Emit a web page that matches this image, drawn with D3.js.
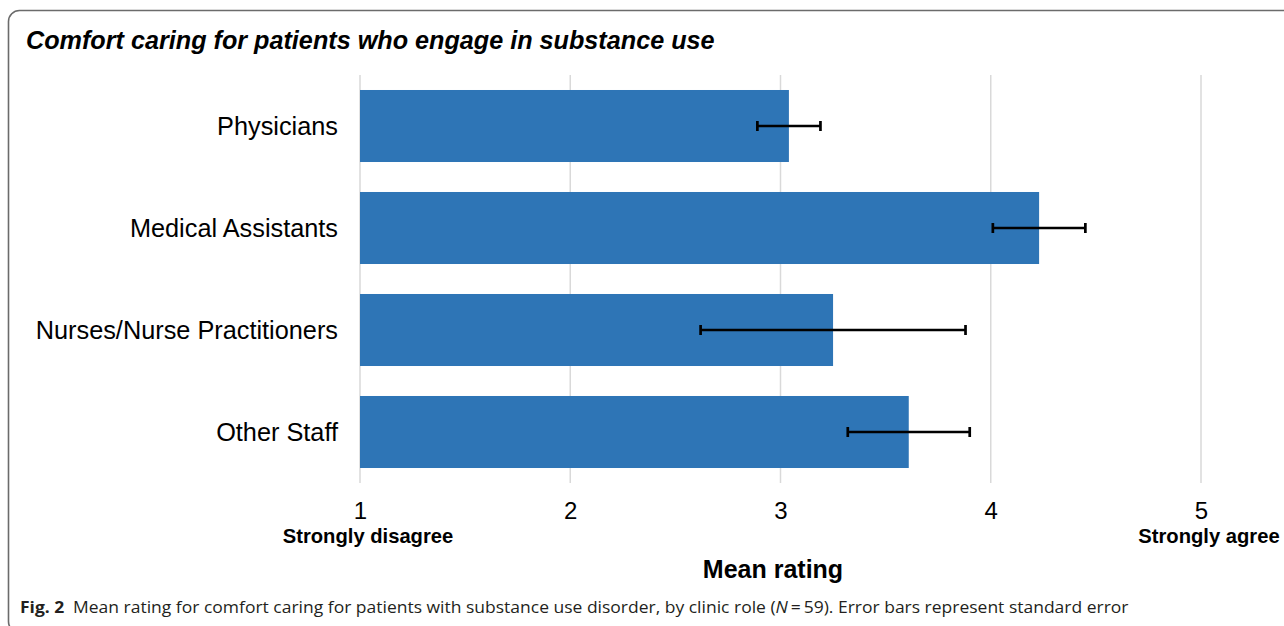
<!DOCTYPE html>
<html lang="en">
<head>
  <meta charset="UTF-8">
  <title>Comfort caring for patients who engage in substance use</title>
  <style>
    body { margin: 0; background: #fff; }
    svg { display: block; font-family: "Liberation Sans", Arial, sans-serif; }
    .grid line { stroke: #d9d9d9; stroke-width: 1.5px; }
    .err { stroke: #000; stroke-width: 2.7px; fill: none; }
  </style>
</head>
<body>
  <div id="chart"></div>

  <script src="https://d3js.org/d3.v7.min.js"></script>
  <script>
    // data
    const roles = ["Physicians", "Medical Assistants", "Nurses/Nurse Practitioners", "Other Staff"];
    const means = [3.04, 4.23, 3.25, 3.61];
    const stdErr = [0.15, 0.22, 0.63, 0.29];
    const ticks = [1, 2, 3, 4, 5];
    const tickNotes = ["Strongly disagree", "", "", "", "Strongly agree"];

    const width = 1284, height = 626;
    const margin = { top: 75, left: 360, right: 83, bottom: 143 };

    const svg = d3.select("#chart")
                  .append("svg")
                  .attr("width", width)
                  .attr("height", height);

    // outer frame (runs off right and bottom edge)
    svg.append("rect")
       .attr("x", 8.5).attr("y", 10.5)
       .attr("width", 1300).attr("height", 622)
       .attr("rx", 11)
       .attr("fill", "none")
       .attr("stroke", "#6b6b6b")
       .attr("stroke-width", 1.6);

    svg.append("text")
       .attr("x", 26).attr("y", 49)
       .attr("font-size", 25.2)
       .attr("font-weight", "bold")
       .attr("font-style", "italic")
       .text("Comfort caring for patients who engage in substance use");

    const x = d3.scaleLinear()
                .domain([1, 5])
                .range([margin.left, width - margin.right]);

    const y = d3.scaleBand()
                .domain(roles)
                .range([margin.top, height - margin.bottom])
                .paddingInner(0.294)
                .paddingOuter(0.147);

    // vertical gridlines
    svg.append("g").attr("class", "grid")
       .selectAll("line")
       .data(ticks)
       .enter()
       .append("line")
       .attr("x1", d => x(d)).attr("x2", d => x(d))
       .attr("y1", margin.top).attr("y2", height - margin.bottom);

    // bars
    svg.selectAll("rect.bar")
       .data(roles)
       .enter()
       .append("rect")
       .attr("class", "bar")
       .attr("x", x(1))
       .attr("y", d => y(d))
       .attr("width", (d, i) => x(means[i]) - x(1))
       .attr("height", y.bandwidth())
       .attr("fill", "#2e75b6");

    // error bars
    const cap = 5;
    svg.append("g").selectAll("path")
       .data(roles)
       .enter()
       .append("path")
       .attr("class", "err")
       .attr("d", (d, i) => {
         const cy = y(d) + y.bandwidth() / 2;
         const lo = x(means[i] - stdErr[i]), hi = x(means[i] + stdErr[i]);
         return `M${lo},${cy}H${hi}M${lo},${cy - cap}V${cy + cap}M${hi},${cy - cap}V${cy + cap}`;
       });

    // category labels
    svg.append("g")
       .selectAll("text")
       .data(roles)
       .enter()
       .append("text")
       .attr("x", margin.left - 22)
       .attr("y", d => y(d) + y.bandwidth() / 2)
       .attr("dy", "0.36em")
       .attr("text-anchor", "end")
       .attr("font-size", 25.3)
       .text(d => d);

    // x axis tick labels
    const xAxis = svg.append("g")
       .attr("transform", `translate(0,${height - margin.bottom})`)
       .call(d3.axisBottom(x).tickValues(ticks).tickFormat(d3.format("d")).tickSize(0).tickPadding(36));
    xAxis.select(".domain").remove();
    xAxis.selectAll("text")
         .attr("font-family", "Liberation Sans, Arial, sans-serif")
         .attr("font-size", 24)
         .attr("fill", "#000")
         .attr("dy", 0);

    svg.append("g")
       .selectAll("text")
       .data(ticks)
       .enter()
       .append("text")
       .attr("x", d => x(d) + 8)
       .attr("y", 543)
       .attr("text-anchor", "middle")
       .attr("font-size", 20.2)
       .attr("font-weight", "bold")
       .text((d, i) => tickNotes[i]);

    svg.append("text")
       .attr("x", 773).attr("y", 578)
       .attr("text-anchor", "middle")
       .attr("font-size", 25)
       .attr("font-weight", "bold")
       .text("Mean rating");

    // figure caption, squeezed to the width of the printed one
    const capText = svg.append("text")
       .attr("x", 0).attr("y", 0)
       .attr("font-family", "Open Sans, sans-serif")
       .attr("font-size", 16.8)
       .attr("fill", "#231f20");
    capText.append("tspan").attr("font-weight", "bold").text("Fig. 2");
    capText.append("tspan").text("\u2002Mean rating for comfort caring for patients with substance use disorder, by clinic role (");
    capText.append("tspan").attr("font-style", "italic").text("N");
    capText.append("tspan").text("\u2009=\u200959). Error bars represent standard error");
    const natural = capText.node().getBBox().width;
    capText.attr("transform", `translate(20,613) scale(${1108 / natural},1)`);
  </script>
</body>
</html>
